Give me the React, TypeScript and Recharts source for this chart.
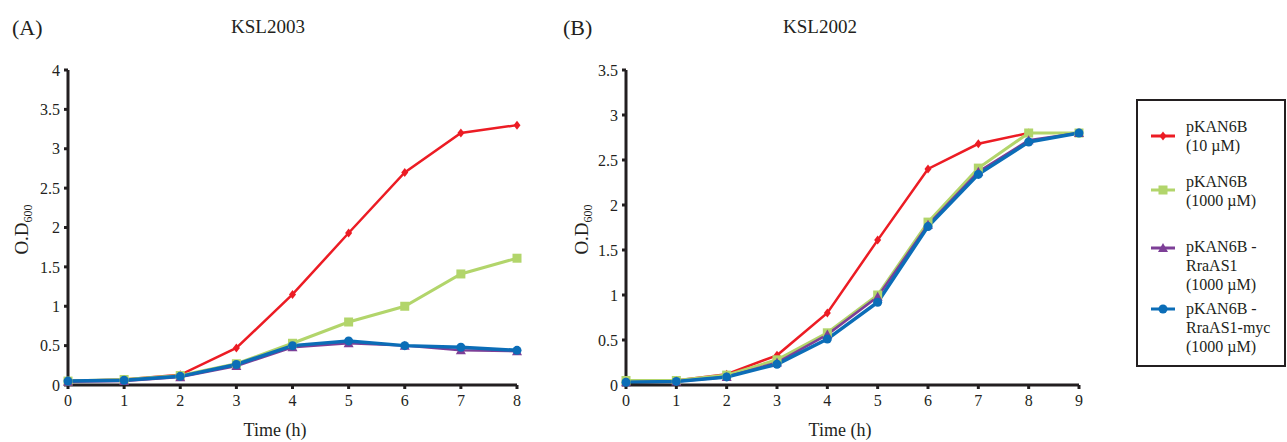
import React from 'react';
import { LineChart, Line, XAxis, YAxis, Legend } from 'recharts';

// panel A (KSL2003), hours 0-8
const hoursA = [0, 1, 2, 3, 4, 5, 6, 7, 8];
const red10A = [0.05, 0.07, 0.13, 0.47, 1.15, 1.93, 2.7, 3.2, 3.3];
const green1000A = [0.05, 0.07, 0.12, 0.27, 0.53, 0.8, 1.0, 1.41, 1.61];
const purpleRraA = [0.04, 0.05, 0.1, 0.24, 0.48, 0.53, 0.5, 0.44, 0.43];
const blueMycA = [0.05, 0.06, 0.11, 0.26, 0.5, 0.56, 0.5, 0.48, 0.44];

// panel B (KSL2002), hours 0-9
const hoursB = [0, 1, 2, 3, 4, 5, 6, 7, 8, 9];
const red10B = [0.04, 0.05, 0.12, 0.33, 0.8, 1.61, 2.4, 2.68, 2.8, null];
const green1000B = [0.05, 0.05, 0.11, 0.28, 0.58, 1.0, 1.81, 2.41, 2.8, 2.8];
const purpleRraB = [0.03, 0.04, 0.09, 0.25, 0.56, 0.98, 1.78, 2.37, 2.72, 2.8];
const blueMycB = [0.03, 0.04, 0.09, 0.23, 0.51, 0.92, 1.76, 2.34, 2.7, 2.8];

const ticksYA = [0, 0.5, 1, 1.5, 2, 2.5, 3, 3.5, 4];
const ticksYB = [0, 0.5, 1, 1.5, 2, 2.5, 3, 3.5];

const legendItems = [
  { key: 'red', lines: ['pKAN6B', '(10 µM)'], top: 16, iconY: 35 },
  { key: 'green', lines: ['pKAN6B', '(1000 µM)'], top: 71, iconY: 89 },
  { key: 'purple', lines: ['pKAN6B -', 'RraAS1', '(1000 µM)'], top: 136, iconY: 147 },
  { key: 'blue', lines: ['pKAN6B -', 'RraAS1-myc', '(1000 µM)'], top: 198, iconY: 208 },
];

const COLORS: Record<string, string> = {
  red: '#ec1c24',
  green: '#b2d56b',
  purple: '#7d3f97',
  blue: '#0b6db7',
};

const INK = '#231f20';

const dataA = hoursA.map((h, i) => ({
  h,
  red: red10A[i],
  green: green1000A[i],
  purple: purpleRraA[i],
  blue: blueMycA[i],
}));

const dataB = hoursB.map((h, i) => ({
  h,
  red: red10B[i],
  green: green1000B[i],
  purple: purpleRraB[i],
  blue: blueMycB[i],
}));

function marker(kind: string, cx: number, cy: number, key?: string | number) {
  const c = COLORS[kind];
  if (kind === 'red') {
    return <polygon key={key} points={`${cx},${cy - 4.5} ${cx + 3.5},${cy} ${cx},${cy + 4.5} ${cx - 3.5},${cy}`} fill={c} />;
  }
  if (kind === 'green') {
    return <rect key={key} x={cx - 4.5} y={cy - 4.5} width={9} height={9} fill={c} />;
  }
  if (kind === 'purple') {
    return <polygon key={key} points={`${cx},${cy - 5} ${cx + 5},${cy + 4} ${cx - 5},${cy + 4}`} fill={c} />;
  }
  return <circle key={key} cx={cx} cy={cy} r={4.5} fill={c} />;
}

const dotFor = (kind: string) => (props: any) => {
  if (props.cx == null || props.cy == null || props.value == null) return <g key={props.index} />;
  return marker(kind, props.cx, props.cy, props.index);
};

function YTitle({ viewBox }: any) {
  const x = viewBox.x + 28;
  const y = viewBox.y + viewBox.height / 2 + 2;
  return (
    <text x={x} y={y} transform={`rotate(-90 ${x} ${y})`} textAnchor="middle" fontSize={19} fill={INK}>
      O.D<tspan dy={4} fontSize={12}>600</tspan>
    </text>
  );
}

function LegendBox() {
  return (
    <div
      style={{
        width: 150,
        height: 268,
        border: `2px solid ${INK}`,
        boxSizing: 'border-box',
        position: 'relative',
        fontFamily: '"Liberation Serif", serif',
        fontSize: 16,
        color: INK,
        background: '#fff',
      }}
    >
      {legendItems.map((it) => (
        <React.Fragment key={it.key}>
          <svg width={30} height={12} style={{ position: 'absolute', left: 11, top: it.iconY - 6 }}>
            <line x1={2} x2={26} y1={6} y2={6} stroke={COLORS[it.key]} strokeWidth={3} />
            {marker(it.key, 14, 6)}
          </svg>
          <div style={{ position: 'absolute', left: 48, top: it.top, lineHeight: '19px', whiteSpace: 'nowrap' }}>
            {it.lines.map((l) => (
              <div key={l}>{l}</div>
            ))}
          </div>
        </React.Fragment>
      ))}
    </div>
  );
}

const axisLineStyle = { stroke: INK, strokeWidth: 3 };
const tickLineStyle = { stroke: INK, strokeWidth: 3 };
const tickStyle = { fill: INK, fontSize: 16 };

function series(order: string[], widths: Record<string, number>) {
  return order.map((k) => (
    <Line
      key={k}
      type="linear"
      dataKey={k}
      stroke={COLORS[k]}
      strokeWidth={widths[k]}
      dot={dotFor(k)}
      activeDot={false}
      isAnimationActive={false}
    />
  ));
}

const lineWidths = { red: 2.5, green: 3, purple: 2.5, blue: 3.5 };

export default function App() {
  return (
    <div
      style={{
        position: 'absolute',
        left: 0,
        top: 0,
        width: 1287,
        height: 442,
        background: '#fff',
        fontFamily: '"Liberation Serif", "Times New Roman", serif',
        color: INK,
      }}
    >
      <div style={{ position: 'absolute', left: 12, top: 15, fontSize: 22 }}>(A)</div>
      <div style={{ position: 'absolute', left: 213, width: 110, textAlign: 'center', top: 16, fontSize: 19 }}>KSL2003</div>
      <div style={{ position: 'absolute', left: 563, top: 15, fontSize: 22 }}>(B)</div>
      <div style={{ position: 'absolute', left: 765, width: 110, textAlign: 'center', top: 16, fontSize: 19 }}>KSL2002</div>
      <div style={{ position: 'absolute', left: 220, width: 110, textAlign: 'center', top: 420, fontSize: 18 }}>Time (h)</div>
      <div style={{ position: 'absolute', left: 785, width: 110, textAlign: 'center', top: 420, fontSize: 18 }}>Time (h)</div>

      <div style={{ position: 'absolute', left: 0, top: 0 }}>
        <LineChart width={560} height={442} data={dataA} margin={{ top: 70, right: 43, bottom: 27, left: 0 }}>
          <XAxis
            dataKey="h"
            type="number"
            domain={[0, 8]}
            ticks={hoursA}
            height={30}
            axisLine={axisLineStyle}
            tickLine={tickLineStyle}
            tickSize={4}
            tickMargin={6}
            tick={tickStyle}
          />
          <YAxis
            type="number"
            domain={[0, 4]}
            ticks={ticksYA}
            width={68}
            axisLine={axisLineStyle}
            tickLine={tickLineStyle}
            tickSize={4}
            tickMargin={4}
            tick={tickStyle}
            label={<YTitle />}
          />
          {series(['red', 'green', 'purple', 'blue'], lineWidths)}
        </LineChart>
      </div>

      <div style={{ position: 'absolute', left: 560, top: 0 }}>
        <LineChart width={727} height={442} data={dataB} margin={{ top: 70, right: 208, bottom: 27, left: 0 }}>
          <XAxis
            dataKey="h"
            type="number"
            domain={[0, 9]}
            ticks={hoursB}
            height={30}
            axisLine={axisLineStyle}
            tickLine={tickLineStyle}
            tickSize={4}
            tickMargin={6}
            tick={tickStyle}
          />
          <YAxis
            type="number"
            domain={[0, 3.5]}
            ticks={ticksYB}
            width={66}
            axisLine={axisLineStyle}
            tickLine={tickLineStyle}
            tickSize={4}
            tickMargin={4}
            tick={tickStyle}
            label={<YTitle />}
          />
          <Legend
            layout="vertical"
            align="center"
            verticalAlign="middle"
            content={<LegendBox />}
            wrapperStyle={{ position: 'absolute', left: 576, top: 99, width: 150, height: 268 }}
          />
          {series(['red', 'green', 'purple', 'blue'], lineWidths)}
        </LineChart>
      </div>
    </div>
  );
}
